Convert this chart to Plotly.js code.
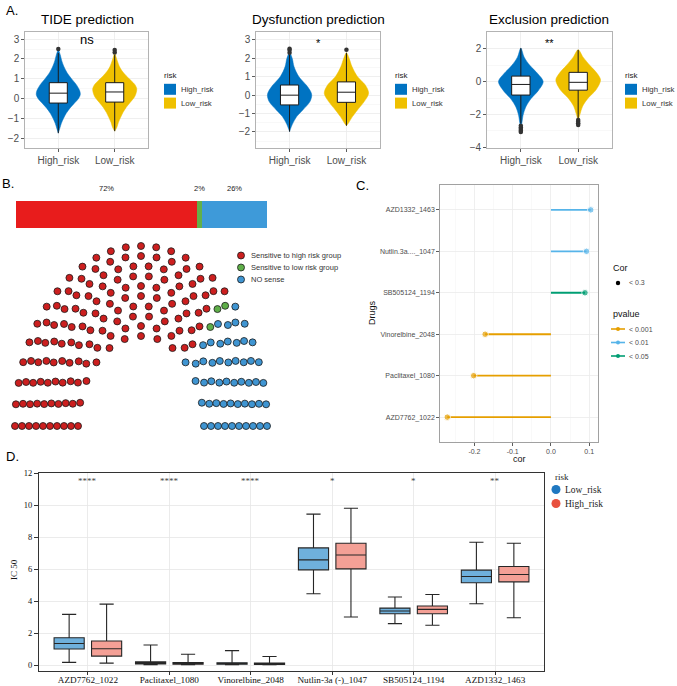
<!DOCTYPE html>
<html><head><meta charset="utf-8">
<script src="https://cdn.plot.ly/plotly-3.0.1.min.js"></script>
<style>html,body{margin:0;padding:0;background:#fff}#chart{width:677px;height:686px}</style>
</head><body><div id="chart"></div>
<script>
// ================= DATA =================
const riskGroups = ["High_risk", "Low_risk"];
const riskColors = ["#0073C2", "#EFC000"];

// Panel A - violin outlines: y levels and relative half-widths
const tideHighY = [2.45, 2.2, 1.9, 1.6, 1.3, 1.0, 0.7, 0.4, 0.2, 0.0, -0.25, -0.5, -0.75, -1.0, -1.25, -1.5, -1.75];
const tideHighW = [0, 0.09, 0.16, 0.26, 0.4, 0.6, 0.82, 0.97, 1.0, 0.92, 0.72, 0.52, 0.36, 0.24, 0.14, 0.07, 0];
const tideLowY = [2.3, 2.1, 1.9, 1.6, 1.4, 1.15, 0.9, 0.7, 0.5, 0.3, 0.08, -0.2, -0.45, -0.7, -0.95, -1.2, -1.45, -1.65];
const tideLowW = [0, 0.06, 0.12, 0.22, 0.33, 0.52, 0.75, 0.92, 1.0, 0.98, 0.9, 0.7, 0.52, 0.38, 0.27, 0.17, 0.1, 0];
const dysHighY = [2.3, 2.0, 1.55, 1.0, 0.55, 0.2, 0.0, -0.35, -0.8, -1.15, -1.6, -1.98];
const dysHighW = [0, 0.12, 0.2, 0.42, 0.75, 0.95, 1.0, 0.92, 0.6, 0.33, 0.12, 0];
const dysLowY = [2.3, 2.0, 1.55, 1.0, 0.55, 0.1, -0.35, -0.8, -1.15, -1.5, -1.66];
const dysLowW = [0, 0.12, 0.25, 0.5, 0.85, 1.0, 0.8, 0.5, 0.28, 0.1, 0];
const excHighY = [2.05, 1.5, 1.0, 0.5, 0.0, -0.55, -1.05, -1.55, -2.05, -2.5, -2.9];
const excHighW = [0, 0.15, 0.4, 0.75, 1.0, 0.78, 0.45, 0.22, 0.1, 0.05, 0];
const excLowY = [1.95, 1.5, 1.0, 0.5, 0.1, -0.5, -1.0, -1.5, -2.0, -2.4];
const excLowW = [0, 0.22, 0.52, 0.85, 1.0, 0.8, 0.45, 0.2, 0.08, 0];

// Panel A - box statistics [High_risk, Low_risk]
const tideQ1 = [-0.23, -0.18], tideMed = [0.27, 0.33], tideQ3 = [0.8, 0.8], tideLo = [-1.75, -1.65], tideHi = [2.3, 2.2];
const tideOutHigh = [2.5], tideOutLow = [2.32, 2.45];
const dysQ1 = [-0.53, -0.39], dysMed = [0.0, 0.16], dysQ3 = [0.55, 0.72], dysLo = [-1.98, -1.66], dysHi = [2.2, 2.3];
const dysOutHigh = [2.3, 2.45, 2.52], dysOutLow = [2.46];
const excQ1 = [-0.82, -0.52], excMed = [-0.17, -0.04], excQ3 = [0.34, 0.57], excLo = [-2.55, -2.25], excHi = [2.05, 1.95];
const excOutHigh = [-2.7, -2.8, -2.9, -3.0, -3.08], excOutLow = [-2.35, -2.45, -2.55, -2.65];
const panelTitles = ["TIDE prediction", "Dysfunction prediction", "Exclusion prediction"];
const panelSignif = ["ns", "*", "**"];

// Panel B
const sensLabels = ["Sensitive to high risk group", "Sensitive to low risk group", "NO sense"];
const sensPct = [72, 2, 26];
const sensSeats = [145, 3, 52];
const barColors = ["#E81C1C", "#62B04A", "#3E9AD9"];
const dotColors = ["#CC1F1F", "#5EAE48", "#3F95D2"];

// Panel C
const cDrugs = ["AZD7762_1022", "Paclitaxel_1080", "Vinorelbine_2048", "SB505124_1194", "Nutlin.3a...._1047", "AZD1332_1463"];
const cCor = [-0.271, -0.202, -0.172, 0.089, 0.093, 0.104];
const cPval = ["< 0.001", "< 0.001", "< 0.001", "< 0.05", "< 0.01", "< 0.01"];
const pLevels = ["< 0.001", "< 0.01", "< 0.05"];
const pColors = ["#E69F00", "#56B4E9", "#009E73"];

// Panel D
const dDrugs = ["AZD7762_1022", "Paclitaxel_1080", "Vinorelbine_2048", "Nutlin-3a (-)_1047", "SB505124_1194", "AZD1332_1463"];
const dSignif = ["****", "****", "****", "*", "*", "**"];
const lowLo = [0.17, 0.02, 0.02, 4.46, 2.59, 3.83];
const lowQ1 = [1.0, 0.07, 0.05, 5.95, 3.21, 5.14];
const lowMed = [1.35, 0.13, 0.09, 6.57, 3.38, 5.53];
const lowQ3 = [1.71, 0.2, 0.14, 7.32, 3.56, 5.93];
const lowHi = [3.17, 1.25, 0.9, 9.43, 4.25, 7.67];
const highLo = [0.12, 0.02, 0.02, 3.0, 2.49, 2.96];
const highQ1 = [0.56, 0.05, 0.04, 6.01, 3.21, 5.2];
const highMed = [1.02, 0.1, 0.08, 6.88, 3.48, 5.66];
const highQ3 = [1.5, 0.16, 0.13, 7.61, 3.69, 6.16];
const highHi = [3.81, 0.68, 0.54, 9.8, 4.41, 7.61];
const dGroups = ["Low_risk", "High_risk"];
const dFill = ["#6FB0DC", "#F4A096"];
const dLegendCol = ["#1F78C1", "#E8503E"];

// ================= LAYOUT HELPERS =================
const W = 677, H = 686;
const px = x => x / W, py = y => 1 - y / H;
const xd = (a, b) => [a / W, b / W];
const yd = (t, b) => [1 - b / H, 1 - t / H];
const SANS = "Liberation Sans, Arial, sans-serif";
const SERIF = "Liberation Serif, Times New Roman, serif";

const traces = [];
const layout = {
  width: W, height: H, margin: {l: 0, r: 0, t: 0, b: 0},
  paper_bgcolor: "#fff", plot_bgcolor: "#fff",
  font: {family: SANS, size: 9, color: "#4d4d4d"},
  showlegend: false, barmode: "stack", boxmode: "overlay",
  annotations: [], shapes: []
};
function ann(x, y, text, o) {
  layout.annotations.push(Object.assign({xref: "paper", yref: "paper", x: px(x), y: py(y), text: text,
    showarrow: false, xanchor: "center", yanchor: "middle", font: {family: SANS, size: 9, color: "#222"}}, o || {}));
}

// ================= PANEL A =================
const aPanels = [
  {s: "", ov: "8", xdom: [25, 148], yr: [-2.5, 3.36], dt: 1, title: 87, leg: 162,
   vy: [tideHighY, tideLowY], vw: [tideHighW, tideLowW], q1: tideQ1, med: tideMed, q3: tideQ3, lo: tideLo, hi: tideHi, out: [tideOutHigh, tideOutLow], sigY: 39, sigSize: 13},
  {s: "2", ov: "9", xdom: [256, 380], yr: [-2.87, 3.43], dt: 1, title: 318, leg: 393,
   vy: [dysHighY, dysLowY], vw: [dysHighW, dysLowW], q1: dysQ1, med: dysMed, q3: dysQ3, lo: dysLo, hi: dysHi, out: [dysOutHigh, dysOutLow], sigY: 43, sigSize: 11},
  {s: "3", ov: "10", xdom: [487, 612], yr: [-4.06, 3.04], dt: 2, title: 549, leg: 623,
   vy: [excHighY, excLowY], vw: [excHighW, excLowW], q1: excQ1, med: excMed, q3: excQ3, lo: excLo, hi: excHi, out: [excOutHigh, excOutLow], sigY: 43, sigSize: 11}
];
const halfMax = 0.39;
const aXRange = [0.41, 2.59];
aPanels.forEach((p, pi) => {
  const xa = "x" + p.s, ya = "y" + p.s, xo = "x" + p.ov, yo = "y" + p.ov;
  [0, 1].forEach(g => {
    const c = g + 1, xs = [], ys = [];
    p.vy[g].forEach((v, i) => { xs.push(c + halfMax * p.vw[g][i]); ys.push(v); });
    for (let i = p.vy[g].length - 1; i >= 0; i--) { xs.push(c - halfMax * p.vw[g][i]); ys.push(p.vy[g][i]); }
    traces.push({type: "scatter", mode: "lines", x: xs, y: ys, fill: "toself", fillcolor: riskColors[g],
      line: {color: riskColors[g], width: 0.5, shape: "spline", smoothing: 0.9}, xaxis: xa, yaxis: ya, hoverinfo: "skip"});
  });
  // boxes on an overlaying subplot so they sit above the violins
  traces.push({type: "box", x: [1, 2], q1: p.q1, median: p.med, q3: p.q3, lowerfence: p.lo, upperfence: p.hi,
    width: 0.32, fillcolor: "#ffffff", line: {color: "#1a1a1a", width: 1}, whiskerwidth: 0, boxpoints: false,
    xaxis: xo, yaxis: yo, hoverinfo: "skip"});
  [0, 1].forEach(g => {
    traces.push({type: "scatter", mode: "markers", x: p.out[g].map(() => g + 1), y: p.out[g],
      marker: {color: "#333", size: 4.5}, xaxis: xo, yaxis: yo, hoverinfo: "skip"});
  });
  layout["xaxis" + p.s] = {domain: xd(p.xdom[0], p.xdom[1]), range: aXRange, tickvals: [1, 2], ticktext: riskGroups,
    anchor: ya, showline: true, mirror: true, linecolor: "#a0a0a0", linewidth: 0.8, ticks: "outside", ticklen: 3,
    tickcolor: "#333", tickwidth: 0.8, tickfont: {size: 10, color: "#4d4d4d"}, showgrid: true, gridcolor: "#ebebeb",
    gridwidth: 0.8, zeroline: false, fixedrange: true};
  layout["yaxis" + p.s] = {domain: yd(32, 148), range: p.yr, tick0: 0, dtick: p.dt, anchor: xa, showline: true, mirror: true,
    linecolor: "#a0a0a0", linewidth: 0.8, ticks: "outside", ticklen: 3, tickcolor: "#333", tickwidth: 0.8,
    tickfont: {size: 10, color: "#4d4d4d"}, showgrid: true, gridcolor: "#ebebeb", gridwidth: 0.8, zeroline: false,
    minor: {dtick: p.dt / 2, tick0: 0, showgrid: true, gridcolor: "#f4f4f4", gridwidth: 0.6}, fixedrange: true};
  layout["xaxis" + p.ov] = {overlaying: xa, anchor: yo, range: aXRange, visible: false, showgrid: false, zeroline: false, fixedrange: true};
  layout["yaxis" + p.ov] = {overlaying: ya, anchor: xo, range: p.yr, visible: false, showgrid: false, zeroline: false, fixedrange: true};
  ann(p.title, 19, panelTitles[pi], {font: {family: SANS, size: 13.5, color: "#000"}});
  ann(p.title, p.sigY, panelSignif[pi], {font: {family: SANS, size: p.sigSize, color: "#000"}});
  // legend
  ann(p.leg, 75.5, "risk", {xanchor: "left", font: {family: SANS, size: 8, color: "#222"}});
  [0, 1].forEach(g => {
    const yc = 89.3 + 13.8 * g;
    layout.shapes.push({type: "rect", xref: "paper", yref: "paper", x0: px(p.leg + 2), x1: px(p.leg + 14),
      y0: py(yc - 5.5), y1: py(yc + 5.5), fillcolor: riskColors[g], line: {width: 0}});
    ann(p.leg + 17, yc, riskGroups[g], {xanchor: "left", font: {family: SANS, size: 7.8, color: "#333"}});
  });
});
ann(12, 10, "A.", {font: {family: SANS, size: 13, color: "#000"}});

// ================= PANEL B =================
let cum = 0;
sensPct.forEach((p, i) => {
  traces.push({type: "bar", orientation: "h", x: [p], y: [0], width: 1, marker: {color: barColors[i], line: {width: 0}},
    xaxis: "x4", yaxis: "y4", hoverinfo: "skip"});
  layout.annotations.push({xref: "x4", yref: "paper", x: cum + p / 2, y: py(189), text: p + "%", showarrow: false,
    xanchor: "center", yanchor: "middle", font: {family: SANS, size: 7.5, color: "#222"}});
  cum += p;
});
layout.xaxis4 = {domain: xd(16, 267), range: [0, 100], visible: false, fixedrange: true, anchor: "y4"};
layout.yaxis4 = {domain: yd(201, 228), range: [-0.5, 0.5], visible: false, fixedrange: true, anchor: "x4"};

// parliament (semicircle) layout computed from seat counts
const nArcs = 10;
const totalSeats = sensSeats.reduce((a, b) => a + b, 0);
const radii = Array.from({length: nArcs}, (_, i) => 1 + i / (nArcs - 1));
const rSum = radii.reduce((a, b) => a + b, 0);
const seats = [];
radii.forEach(r => {
  const n = Math.round(r / rSum * totalSeats);
  for (let k = 0; k < n; k++) seats.push({r: r, th: Math.PI * k / (n - 1)});
});
seats.sort((a, b) => (Math.round(b.th * 1e6) - Math.round(a.th * 1e6)) || (b.r - a.r));
let idx = 0;
sensSeats.forEach((cnt, gi) => {
  const part = seats.slice(idx, idx + cnt); idx += cnt;
  traces.push({type: "scatter", mode: "markers", x: part.map(s => s.r * Math.cos(s.th)), y: part.map(s => s.r * Math.sin(s.th)),
    marker: {color: dotColors[gi], size: 7, line: {color: "#1a1a1a", width: 0.8}}, xaxis: "x5", yaxis: "y5", hoverinfo: "skip"});
});
layout.xaxis5 = {domain: xd(0, 290), range: [-141 / 63, 149 / 63], visible: false, fixedrange: true, anchor: "y5"};
layout.yaxis5 = {domain: yd(236, 436), range: [-10 / 90, 190 / 90], visible: false, fixedrange: true, anchor: "x5"};
sensLabels.forEach((t, i) => {
  const yc = 255.5 + 12 * i;
  layout.shapes.push({type: "circle", xref: "paper", yref: "paper", x0: px(237.5), x1: px(244.5), y0: py(yc + 3.5), y1: py(yc - 3.5),
    fillcolor: dotColors[i], line: {color: "#1a1a1a", width: 0.8}});
  ann(249, yc, t, {xanchor: "left", font: {family: SANS, size: 7.5, color: "#333"}});
});
ann(8, 184, "B.", {font: {family: SANS, size: 13, color: "#000"}});

// ================= PANEL C =================
cDrugs.forEach((d, i) => {
  const col = pColors[pLevels.indexOf(cPval[i])];
  traces.push({type: "scatter", mode: "lines+markers", x: [0, cCor[i]], y: [d, d],
    line: {color: col, width: 1.8}, marker: {color: col, size: [0, 6.5]}, xaxis: "x6", yaxis: "y6", hoverinfo: "skip"});
});
layout.xaxis6 = {domain: xd(440, 598), range: [-0.29, 0.123], tickvals: [-0.2, -0.1, 0, 0.1], ticktext: ["-0.2", "-0.1", "0.0", "0.1"],
  anchor: "y6", showline: true, mirror: true, linecolor: "#8a8a8a", linewidth: 0.8, ticks: "outside", ticklen: 3, tickcolor: "#333",
  tickwidth: 0.8, tickfont: {size: 7, color: "#4d4d4d"}, showgrid: true, gridcolor: "#ebebeb", gridwidth: 0.8, zeroline: false,
  minor: {tickvals: [-0.25, -0.15, -0.05, 0.05], showgrid: true, gridcolor: "#f5f5f5", gridwidth: 0.6, ticklen: 0}, fixedrange: true};
layout.yaxis6 = {domain: yd(185, 442), type: "category", categoryorder: "array", categoryarray: cDrugs, range: [-0.6, 5.6],
  anchor: "x6", showline: true, mirror: true, linecolor: "#8a8a8a", linewidth: 0.8, ticks: "outside", ticklen: 3, tickcolor: "#333",
  tickwidth: 0.8, tickfont: {size: 7, color: "#4d4d4d"}, showgrid: true, gridcolor: "#ebebeb", gridwidth: 0.8, zeroline: false, fixedrange: true};
ann(372, 313, "Drugs", {textangle: -90, font: {family: SANS, size: 9, color: "#111"}});
ann(519, 459, "cor", {font: {family: SANS, size: 9, color: "#111"}});
ann(362, 185, "C.", {font: {family: SANS, size: 13, color: "#000"}});
// legend C
ann(611, 268, "Cor", {xanchor: "left", font: {family: SANS, size: 9, color: "#111"}});
layout.shapes.push({type: "circle", xref: "paper", yref: "paper", x0: px(615.8), x1: px(620.2), y0: py(285.2), y1: py(280.8), fillcolor: "#000", line: {width: 0}});
ann(627, 283, "< 0.3", {xanchor: "left", font: {family: SANS, size: 7, color: "#4d4d4d"}});
ann(611, 313.5, "pvalue", {xanchor: "left", font: {family: SANS, size: 9, color: "#111"}});
pLevels.forEach((t, i) => {
  const yc = 329 + 13.5 * i;
  layout.shapes.push({type: "line", xref: "paper", yref: "paper", x0: px(611), x1: px(625), y0: py(yc), y1: py(yc), line: {color: pColors[i], width: 1.6}});
  layout.shapes.push({type: "circle", xref: "paper", yref: "paper", x0: px(616), x1: px(620), y0: py(yc + 2), y1: py(yc - 2), fillcolor: pColors[i], line: {width: 0}});
  ann(627, yc, t, {xanchor: "left", font: {family: SANS, size: 7, color: "#4d4d4d"}});
});

// ================= PANEL D =================
const dStats = [[lowLo, lowQ1, lowMed, lowQ3, lowHi], [highLo, highQ1, highMed, highQ3, highHi]];
const dDodge = [-0.23, 0.23];
dGroups.forEach((g, gi) => {
  const s = dStats[gi];
  traces.push({type: "box", name: g, x: dDrugs.map((_, i) => i + dDodge[gi]), lowerfence: s[0], q1: s[1], median: s[2], q3: s[3], upperfence: s[4],
    width: 0.37, fillcolor: dFill[gi], line: {color: "#262626", width: 1.1}, whiskerwidth: 0.47, boxpoints: false,
    xaxis: "x7", yaxis: "y7", hoverinfo: "skip"});
});
layout.xaxis7 = {domain: xd(39, 544), range: [-0.6, 5.6], tickvals: dDrugs.map((_, i) => i), ticktext: dDrugs,
  anchor: "y7", showline: true, mirror: true, linecolor: "#333", linewidth: 1, ticks: "outside", ticklen: 3, tickcolor: "#333",
  ticklabelstandoff: -3,
  tickfont: {family: SERIF, size: 9.2, color: "#111"}, showgrid: true, gridcolor: "#e6e6e6", gridwidth: 0.8, zeroline: false, fixedrange: true};
layout.yaxis7 = {domain: yd(473, 671), range: [-0.37, 12], tick0: 0, dtick: 2, anchor: "x7", showline: true, mirror: true,
  linecolor: "#333", linewidth: 1, ticks: "outside", ticklen: 4, tickcolor: "#333", tickfont: {family: SERIF, size: 8.5, color: "#111"},
  showgrid: true, gridcolor: "#e6e6e6", gridwidth: 0.8, zeroline: false, fixedrange: true};
dDrugs.forEach((d, i) => {
  layout.annotations.push({xref: "x7", yref: "paper", x: i, y: py(481), text: dSignif[i], showarrow: false,
    xanchor: "center", yanchor: "middle", font: {family: SERIF, size: 9, color: "#444"}});
});
ann(14, 570, "IC 50", {textangle: -90, font: {family: SERIF, size: 9, color: "#111"}});
ann(12, 457, "D.", {font: {family: SANS, size: 13, color: "#000"}});
// legend D
ann(553, 477, "risk", {xanchor: "left", font: {family: SERIF, size: 9, color: "#222"}});
dGroups.forEach((g, gi) => {
  const yc = 489.5 + 14 * gi;
  layout.shapes.push({type: "circle", xref: "paper", yref: "paper", x0: px(551.5), x1: px(560.5), y0: py(yc + 4.5), y1: py(yc - 4.5),
    fillcolor: dLegendCol[gi], line: {width: 0}});
  ann(563, yc, g, {xanchor: "left", font: {family: SERIF, size: 9.5, color: "#222"}});
});

Plotly.newPlot("chart", traces, layout, {staticPlot: true, displayModeBar: false});
</script>
</body></html>
